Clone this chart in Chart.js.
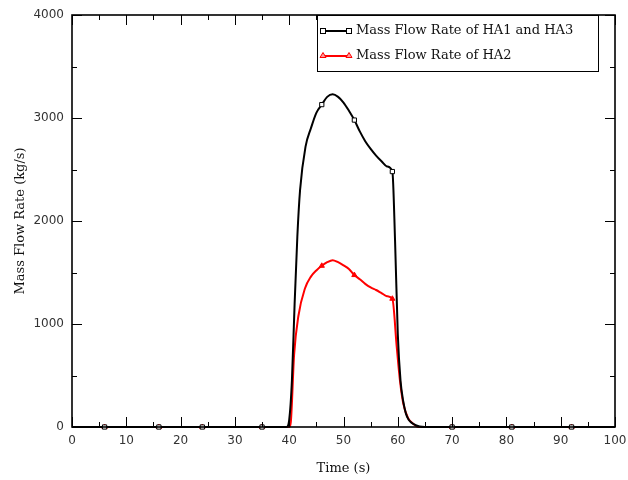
<!DOCTYPE html>
<html>
<head>
<meta charset="utf-8">
<script src="https://cdn.jsdelivr.net/npm/chart.js@4/dist/chart.umd.min.js"></script>
<style>
  body { margin: 0; background: #fff; }
  canvas { display: block; }
</style>
</head>
<body>
<canvas id="flow" width="628" height="480"></canvas>
<script>
// Time (s) and mass flow rate (kg/s)
const timeHA13 = [0, 6, 16, 24, 35, 39.5, 40, 40.5, 41, 41.5, 42, 43, 44, 45, 46, 47, 48, 49, 50, 51, 52, 53, 54, 55, 56, 57, 58, 59, 59.5, 60, 60.5, 61, 61.5, 62, 63, 64, 65, 70, 81, 92, 100];
const flowHA13 = [0, 0, 0, 0, 0, 0, 70, 450, 1200, 1850, 2300, 2720, 2900, 3050, 3130, 3205, 3230, 3205, 3150, 3070, 2980, 2870, 2775, 2700, 2635, 2580, 2530, 2480, 1800, 900, 450, 250, 130, 70, 25, 5, 0, 0, 0, 0, 0];
const timeHA2 = [0, 6, 16, 24, 35, 40, 40.3, 40.9, 41.7, 42.9, 44, 45, 46, 47, 48, 49, 50, 51, 52, 53, 54, 55, 56, 57, 58, 59, 59.8, 60.4, 61, 61.9, 62.9, 63.7, 70, 81, 92, 100];
const flowHA2 = [0, 0, 0, 0, 0, 0, 50, 700, 1080, 1345, 1460, 1520, 1565, 1600, 1620, 1600, 1570, 1535, 1475, 1435, 1390, 1355, 1330, 1300, 1270, 1245, 780, 450, 230, 85, 30, 0, 0, 0, 0, 0];
const markerTimes = [6, 16, 24, 35, 46, 52, 59, 70, 81, 92];
const seriesNames = ['Mass Flow Rate of HA1 and HA3', 'Mass Flow Rate of HA2'];

const serif = '"DejaVu Serif", serif';
const sans = '"DejaVu Sans", sans-serif';

function toPoints(xs, ys) {
    return xs.map((t, i) => ({ x: t, y: ys[i] }));
}

function markerRadius(r) {
    return (ctx) => markerTimes.includes(ctx.raw.x) ? r : 0;
}

// inward ticks on all four sides plus the frame
const frameTicks = {
    id: 'frameTicks',
    afterDatasetsDraw(chart) {
        const { ctx, chartArea: ca, scales } = chart;
        ctx.save();
        ctx.strokeStyle = '#000';
        ctx.lineWidth = 1;
        ctx.beginPath();
        for (let v = 0; v <= 100; v += 5) {
            const px = Math.round(scales.x.getPixelForValue(v)) + 0.5;
            const len = v % 10 === 0 ? 10 : 5;
            ctx.moveTo(px, ca.bottom); ctx.lineTo(px, ca.bottom - len);
            ctx.moveTo(px, ca.top); ctx.lineTo(px, ca.top + len);
        }
        for (let v = 0; v <= 4000; v += 500) {
            const py = Math.round(scales.y.getPixelForValue(v)) + 0.5;
            const len = v % 1000 === 0 ? 10 : 5;
            ctx.moveTo(ca.left, py); ctx.lineTo(ca.left + len, py);
            ctx.moveTo(ca.right, py); ctx.lineTo(ca.right - len, py);
        }
        ctx.stroke();
        ctx.lineWidth = 1.6;
        ctx.strokeRect(ca.left, ca.top, ca.right - ca.left, ca.bottom - ca.top);
        ctx.restore();
    }
};

// boxed legend in the top right corner
const boxLegend = {
    id: 'boxLegend',
    afterDraw(chart) {
        const { ctx, chartArea: ca } = chart;
        const x0 = 317, y0 = ca.top, w = 281, h = 56;
        ctx.save();
        ctx.fillStyle = '#fff';
        ctx.fillRect(x0, y0, w, h);
        ctx.strokeStyle = '#000';
        ctx.lineWidth = 1;
        ctx.strokeRect(x0 + 0.5, y0 + 0.5, w, h);
        const rows = [
            { y: y0 + 16, color: '#000', shape: 'square' },
            { y: y0 + 41, color: '#ff0000', shape: 'triangle' }
        ];
        rows.forEach((r, i) => {
            ctx.strokeStyle = r.color;
            ctx.lineWidth = 2;
            ctx.beginPath();
            ctx.moveTo(x0 + 6, r.y); ctx.lineTo(x0 + 32, r.y);
            ctx.stroke();
            ctx.lineWidth = 1;
            [x0 + 6, x0 + 32].forEach(mx => {
                if (r.shape === 'square') {
                    ctx.fillStyle = '#fff';
                    ctx.fillRect(mx - 2.5, r.y - 2.5, 5, 5);
                    ctx.strokeRect(mx - 2.5, r.y - 2.5, 5, 5);
                } else {
                    ctx.fillStyle = '#ff9999';
                    ctx.beginPath();
                    ctx.moveTo(mx, r.y - 3.5); ctx.lineTo(mx + 3, r.y + 1.5); ctx.lineTo(mx - 3, r.y + 1.5);
                    ctx.closePath(); ctx.fill(); ctx.stroke();
                }
            });
            ctx.fillStyle = '#111';
            ctx.font = '13px ' + serif;
            ctx.textBaseline = 'middle';
            ctx.fillText(seriesNames[i], x0 + 39, r.y);
        });
        ctx.restore();
    }
};

new Chart(document.getElementById('flow').getContext('2d'), {
    type: 'line',
    data: {
        datasets: [{
            label: seriesNames[0],
            data: toPoints(timeHA13, flowHA13),
            borderColor: '#000',
            borderWidth: 2,
            backgroundColor: '#fff',
            pointStyle: 'rect',
            pointRadius: markerRadius(3),
            pointBorderColor: '#000',
            pointBorderWidth: 1,
            cubicInterpolationMode: 'monotone',
            clip: false
        }, {
            label: seriesNames[1],
            data: toPoints(timeHA2, flowHA2),
            borderColor: '#ff0000',
            borderWidth: 2,
            backgroundColor: '#ff0000',
            pointStyle: 'triangle',
            pointRadius: markerRadius(3),
            pointBorderColor: '#ff0000',
            pointBorderWidth: 1,
            cubicInterpolationMode: 'monotone',
            clip: false
        }]
    },
    options: {
        responsive: false,
        animation: false,
        events: [],
        layout: { padding: { top: 15, right: 13, left: 0, bottom: 0 } },
        scales: {
            x: {
                type: 'linear',
                min: 0, max: 100,
                grid: { display: false, drawTicks: false },
                border: { display: false },
                ticks: { stepSize: 10, padding: 7, color: '#333', font: { family: sans, size: 12 } },
                title: { display: true, text: 'Time (s)', color: '#111', font: { family: serif, size: 13 }, padding: { top: 8 } },
                afterFit(scale) { scale.height = 53; scale.paddingRight = 0; scale.paddingLeft = 0; }
            },
            y: {
                min: 0, max: 4000,
                grid: { display: false, drawTicks: false },
                border: { display: false },
                ticks: { stepSize: 1000, padding: 8, color: '#333', font: { family: sans, size: 12 }, callback: (v) => String(v) },
                title: { display: true, text: 'Mass Flow Rate (kg/s)', color: '#111', font: { family: serif, size: 13 }, padding: { top: 13, bottom: 4 } },
                afterFit(scale) { scale.width = 72; scale.paddingTop = 0; scale.paddingBottom = 0; }
            }
        },
        plugins: {
            legend: { display: false },
            tooltip: { enabled: false }
        }
    },
    plugins: [frameTicks, boxLegend]
});
</script>
</body>
</html>
